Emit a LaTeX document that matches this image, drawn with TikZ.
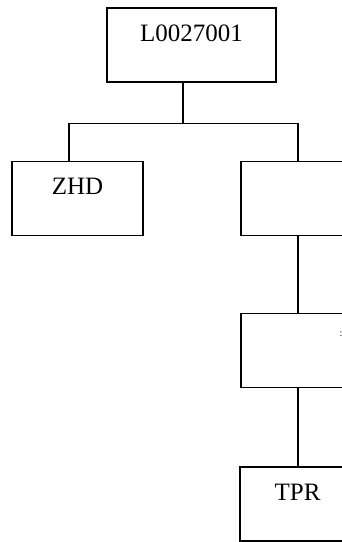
\documentclass[tikz,border=0pt]{standalone}
\usepackage{fontspec}
\setmainfont{Liberation Serif}
\begin{document}
\begin{tikzpicture}[x=1pt,y=-1pt,
  box/.style={draw,line width=1.3pt,inner sep=0pt,minimum width=#1,text height=33pt,text depth=41pt,font=\fontsize{25}{30}\selectfont},
  box/.default=131pt,
  conn/.style={line width=1.3pt}]
\useasboundingbox (0,0) rectangle (342,542);
\clip (0,0) rectangle (342,542);
\node[box=169pt] (top) at (191.5,45) {L0027001};
\node[box] (zhd) at (77.5,198.5) {ZHD};
\node[box] (r1) at (306.5,198.5) {};
\node[box] (r2) at (306.5,350.5) {};
\node[box=115pt] (tpr) at (297.5,504) {TPR};
\node[font=\fontsize{10}{12}\selectfont,inner sep=0pt,anchor=west] (mark) at (339.5,334.5) {:};
\draw[conn] ([xshift=-8.5]top.south) -- ++(0,41) coordinate (j);
\draw[conn] ([xshift=-8.5]zhd.north) -- ([xshift=-8.5]zhd.north |- j) -- ([xshift=-8.5]r1.north |- j) -- ([xshift=-8.5]r1.north);
\draw[conn] ([xshift=-8.5]r1.south) -- ([xshift=-8.5]r2.north);
\draw[conn] ([xshift=-8.5]r2.south) -- ([xshift=-8.5]r2.south |- tpr.north);
\end{tikzpicture}
\end{document}
